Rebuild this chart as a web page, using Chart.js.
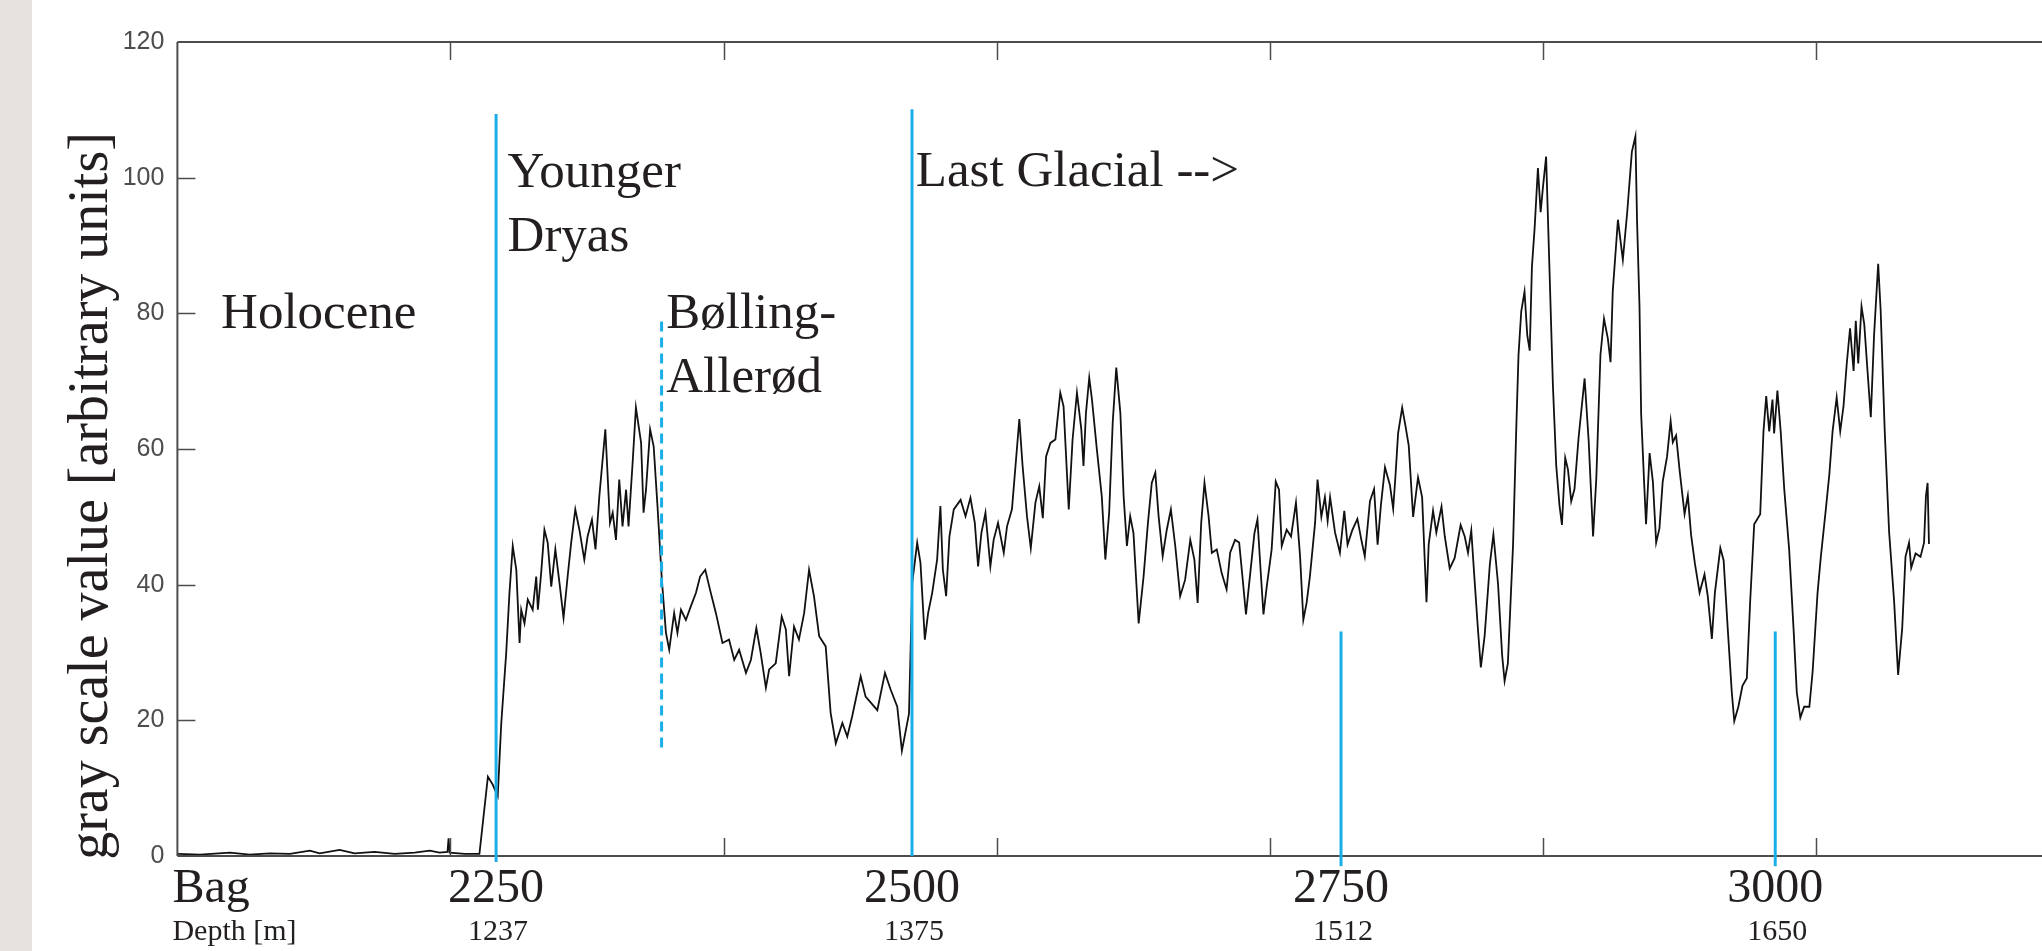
<!DOCTYPE html>
<html>
<head>
<meta charset="utf-8">
<title>Gray scale value along the core</title>
<script src="https://cdn.jsdelivr.net/npm/chart.js@4.4.1/dist/chart.umd.min.js"></script>
<style>
  html, body { margin: 0; padding: 0; overflow: hidden; background: #fff; }
  #wrap { position: relative; width: 2042px; height: 951px; overflow: hidden; }
  canvas { display: block; }
</style>
</head>
<body>
<div id="wrap"><canvas id="grayChart" width="2100" height="951"></canvas></div>
<script>
// --- Data (x in plot units, y = gray scale value) ---
const scanPos = [
  0, 8.3, 19.2, 26.5, 33.9, 41.2, 48.5, 52.1, 59.4, 64.9, 72.2, 79.6, 86.9, 92.4, 96.0, 98.9, 99.3, 99.7, 105.2, 110.6,
  113.7, 115.5, 117.3, 118.6, 120.4, 121.6, 122.8, 124.1, 125.3, 125.9, 127.1, 128.3, 130.1, 131.4, 132.0, 133.2, 134.4, 135.6, 136.9, 138.4,
  139.9, 141.4, 142.9, 144.2, 145.7, 147.2, 149.0, 150.2, 151.8, 153.1, 154.5, 156.7, 158.4, 159.4, 160.6, 161.8, 163.0, 164.3, 165.2, 166.7,
  167.9, 169.8, 170.7, 171.6, 173.1, 174.4, 175.8, 177.4, 178.9, 180.1, 181.9, 183.1, 184.4, 186.2, 188.0, 189.9, 191.4, 193.3, 195.0, 197.2,
  199.6, 202.0, 203.9, 205.7, 208.2, 210.0, 212.0, 213.6, 215.5, 216.7, 219.1, 221.3, 222.8, 224.0, 225.8, 227.6, 229.5, 231.3, 233.1, 235.0,
  237.4, 239.2, 241.1, 243.5, 245.3, 247.1, 250.2, 252.0, 256.3, 259.1, 261.2, 263.6, 265.3, 267.9, 269.1, 270.9, 272.1, 273.7, 274.9, 276.4,
  278.2, 279.4, 280.3, 281.5, 282.7, 284.3, 286.8, 288.6, 290.4, 292.0, 293.2, 294.4, 295.9, 297.7, 298.9, 300.5, 302.6, 303.8, 305.6, 306.9,
  308.3, 309.5, 311.1, 312.5, 314.2, 315.6, 316.9, 318.1, 319.7, 321.5, 323.3, 324.5, 326.4, 327.8, 329.4, 331.0, 331.8, 332.7, 333.9, 334.9,
  336.7, 338.5, 339.8, 341.2, 342.5, 343.8, 345.3, 346.5, 347.7, 348.9, 350.1, 352.0, 353.8, 355.4, 356.8, 358.1, 359.3, 360.8, 362.3, 363.8,
  365.4, 367.2, 369.0, 370.9, 372.4, 373.6, 374.9, 376.1, 377.6, 378.8, 380.6, 382.4, 384.2, 385.5, 387.3, 388.8, 390.0, 391.3, 392.5, 394.4,
  395.5, 396.8, 397.7, 398.9, 400.7, 402.2, 403.4, 404.4, 406.2, 407.8, 409.6, 411.1, 412.3, 413.5, 414.7, 416.6, 417.5, 418.9, 420.2, 421.2,
  422.1, 423.9, 425.7, 427.3, 428.5, 430.2, 432.1, 433.6, 434.8, 436.7, 438.2, 439.5, 440.7, 442.2, 444.0, 445.2, 446.0, 447.0, 448.5, 449.7,
  450.9, 452.5, 454.3, 455.8, 457.4, 458.2, 459.8, 461.0, 462.9, 464.1, 465.9, 467.7, 469.9, 471.4, 472.6, 473.8, 475.1, 476.3, 477.3, 478.7,
  480.6, 481.9, 483.6, 485.1, 486.0, 487.2, 489.1, 490.3, 491.1, 492.1, 493.3, 494.3, 495.2, 496.0, 497.0, 498.2, 499.2, 500.0, 501.2, 502.5,
  503.7, 504.9, 506.1, 507.0, 508.2, 509.2, 510.4, 511.6, 513.1, 515.3, 516.8, 518.4, 519.6, 521.1, 522.4, 523.8, 524.8, 525.6, 527.5, 529.3,
  530.9, 532.6, 533.9, 534.5, 535.4, 536.0, 537.2, 537.8, 539.1, 540.3, 541.5, 542.7, 543.9, 545.5, 546.8, 547.6, 548.8, 550.1, 551.9, 553.1,
  554.3, 555.7, 557.4, 559.2, 560.4, 561.9, 563.0, 565.0, 566.2, 567.7, 569.2, 570.1, 571.6, 573.1, 574.7, 575.9, 577.4, 579.6, 580.8, 581.8,
  582.9, 584.1, 584.7, 585.9, 587.1, 588.4, 590.2, 591.8, 593.0, 594.3, 595.7, 597.6, 598.8, 600.6, 601.8, 603.6, 604.9, 606.1, 607.6, 608.9,
  610.1, 611.3, 612.5, 613.8, 614.6, 615.5, 616.7, 617.7, 618.9, 620.1, 621.3, 622.8, 623.7, 625.2, 626.8, 628.6, 630.1, 631.6, 632.8, 634.1,
  634.9, 636.5, 638.3, 639.6, 640.3, 640.9, 641.4
];
const grayValue = [
  0.3, 0.2, 0.5, 0.2, 0.4, 0.3, 0.8, 0.4, 0.9, 0.4, 0.6, 0.3, 0.5, 0.8, 0.5, 0.6, 2.6, 0.5, 0.3, 0.3,
  11.7, 10.5, 8.8, 19.6, 29.9, 38.8, 45.7, 42.2, 31.4, 36.3, 34.3, 37.8, 36.3, 41.2, 36.3, 41.7, 48.1, 46.2, 39.7, 45.2,
  40.3, 35.1, 41.2, 46.2, 51.1, 48.1, 43.7, 47.1, 49.6, 45.2, 53.0, 62.9, 49.1, 50.6, 46.6, 55.5, 48.6, 54.0, 48.6, 58.0,
  66.1, 60.9, 50.6, 54.0, 62.9, 60.4, 51.6, 40.7, 32.9, 30.4, 35.8, 32.9, 36.3, 34.8, 36.8, 38.8, 41.2, 42.2, 39.3, 35.8,
  31.4, 31.9, 28.9, 30.4, 27.0, 28.9, 33.6, 29.9, 24.8, 27.5, 28.4, 35.3, 33.4, 26.5, 33.8, 31.9, 35.8, 42.2, 38.3, 32.4,
  30.9, 21.1, 16.6, 19.6, 17.6, 20.6, 26.5, 23.5, 21.5, 27.0, 24.5, 22.0, 15.5, 21.0, 40.3, 46.2, 43.2, 31.9, 35.8, 38.8,
  43.7, 51.6, 42.2, 38.3, 47.1, 51.1, 52.5, 50.1, 52.8, 49.1, 42.7, 47.6, 50.6, 42.7, 46.6, 49.1, 44.7, 48.6, 51.1, 57.5,
  64.4, 57.5, 50.1, 45.4, 52.1, 54.5, 49.8, 58.9, 60.9, 61.4, 68.3, 66.3, 51.1, 61.4, 68.3, 62.9, 57.5, 65.3, 70.5, 67.3,
  59.9, 53.0, 43.7, 50.6, 63.9, 72.0, 65.3, 53.0, 45.7, 50.1, 47.6, 34.3, 41.2, 49.1, 55.0, 56.5, 50.1, 44.2, 48.1, 51.1,
  45.7, 38.3, 40.7, 46.6, 43.7, 37.3, 49.1, 55.0, 50.1, 44.7, 45.2, 41.7, 39.3, 44.7, 46.6, 46.2, 41.2, 35.6, 40.3, 47.6,
  49.6, 41.2, 35.6, 39.7, 45.2, 55.2, 54.0, 45.7, 48.1, 47.1, 52.1, 44.2, 34.8, 37.3, 41.2, 49.1, 55.5, 50.0, 52.9, 49.4,
  52.9, 47.7, 44.7, 50.9, 45.9, 48.0, 49.7, 46.5, 44.2, 52.3, 54.1, 45.9, 51.7, 57.3, 54.7, 51.2, 55.8, 62.3, 66.1, 63.4,
  60.5, 50.0, 55.8, 52.9, 37.4, 45.9, 50.9, 47.7, 51.5, 47.1, 42.4, 43.9, 48.8, 47.1, 44.7, 48.0, 40.1, 33.1, 27.8, 32.5,
  43.0, 47.4, 40.1, 29.6, 25.8, 28.4, 45.9, 63.4, 73.9, 80.3, 83.2, 76.8, 74.5, 86.8, 92.6, 101.4, 94.9, 98.4, 103.1, 85.6,
  69.3, 57.6, 51.7, 48.8, 58.7, 57.0, 52.3, 54.1, 61.7, 70.4, 61.1, 47.1, 55.8, 73.9, 79.2, 76.3, 72.8, 83.2, 93.8, 87.9,
  94.9, 103.8, 106.1, 93.7, 81.0, 65.2, 54.1, 48.9, 59.4, 55.2, 46.2, 48.3, 55.2, 58.9, 64.1, 61.0, 62.0, 56.8, 50.4, 53.1,
  47.3, 43.1, 38.8, 41.5, 38.3, 32.0, 38.8, 45.4, 43.6, 33.6, 24.1, 19.9, 22.0, 25.1, 26.2, 37.3, 48.9, 50.4, 62.6, 67.8,
  62.6, 67.3, 62.3, 68.6, 62.6, 54.1, 45.2, 33.6, 24.1, 20.4, 22.0, 22.0, 27.2, 38.8, 44.1, 51.0, 56.2, 62.6, 67.6, 62.6,
  66.3, 72.6, 77.8, 71.5, 78.9, 72.6, 81.0, 78.4, 71.5, 64.7, 76.8, 87.3, 80.5, 62.6, 47.8, 37.8, 26.7, 33.6, 44.1, 46.2,
  42.5, 44.6, 44.1, 46.2, 53.1, 55.0, 46.0
];

// bag markers along the core
const bagNumbers = ["2250", "2500", "2750", "3000"];
const bagDepths = ["1237", "1375", "1512", "1650"];
const bagPos = [116.7, 269.0, 426.1, 585.1];
const bagLineTop = [109.4, 110.1, 33.1, 33.1];
const bagLineBottom = [-0.9, 0, -1.5, -1.5];

// Bølling-Allerød boundary (dashed)
const baPos = 177.3;
const baTop = 78.8;
const baBottom = 15.2;

const periodNames = [["Holocene"], ["Younger", "Dryas"], ["Bølling-", "Allerød"], ["Last Glacial -->"]];

const points = scanPos.map((x, i) => ({ x, y: grayValue[i] }));

// --- Overlay plugin: frame, inward ticks, markers, labels ---
const serif = '"Liberation Serif", "DejaVu Serif", serif';
const ink = "#231f20";
const cyan = "#1aaee8";

const overlay = {
  id: "overlay",
  beforeDraw(chart) {
    const { ctx, width, height } = chart;
    ctx.save();
    ctx.fillStyle = "#ffffff";
    ctx.fillRect(0, 0, width, height);
    ctx.fillStyle = "#e6e2df";
    ctx.fillRect(0, 0, 32, height);
    ctx.restore();
  },
  afterDatasetsDraw(chart) {
    const { ctx, chartArea: a } = chart;
    const xs = chart.scales.x, ys = chart.scales.y;
    ctx.save();

    // frame
    ctx.strokeStyle = "#4d4d4d";
    ctx.lineWidth = 2;
    ctx.beginPath();
    ctx.moveTo(a.left, a.top); ctx.lineTo(a.right, a.top);
    ctx.moveTo(a.left, a.bottom); ctx.lineTo(a.right, a.bottom);
    ctx.moveTo(a.left, a.top); ctx.lineTo(a.left, a.bottom);
    ctx.moveTo(a.right, a.top); ctx.lineTo(a.right, a.bottom);
    ctx.stroke();

    // inward tick marks
    ctx.lineWidth = 1.5;
    ctx.beginPath();
    xs.ticks.forEach(t => {
      if (t.value <= xs.min || t.value >= xs.max) return;
      const px = Math.round(xs.getPixelForValue(t.value)) + 0.5;
      ctx.moveTo(px, a.bottom); ctx.lineTo(px, a.bottom - 18);
      ctx.moveTo(px, a.top); ctx.lineTo(px, a.top + 18);
    });
    ys.ticks.forEach(t => {
      if (t.value <= ys.min || t.value >= ys.max) return;
      const py = Math.round(ys.getPixelForValue(t.value)) + 0.5;
      ctx.moveTo(a.left, py); ctx.lineTo(a.left + 18, py);
      ctx.moveTo(a.right, py); ctx.lineTo(a.right - 18, py);
    });
    ctx.stroke();

    // cyan boundary lines
    ctx.strokeStyle = cyan;
    ctx.lineWidth = 3;
    bagPos.forEach((v, i) => {
      const px = xs.getPixelForValue(v);
      ctx.beginPath();
      ctx.moveTo(px, ys.getPixelForValue(bagLineTop[i]));
      ctx.lineTo(px, ys.getPixelForValue(bagLineBottom[i]));
      ctx.stroke();
    });
    ctx.setLineDash([10, 6]);
    ctx.beginPath();
    const bx = xs.getPixelForValue(baPos);
    ctx.moveTo(bx, ys.getPixelForValue(baTop));
    ctx.lineTo(bx, ys.getPixelForValue(baBottom));
    ctx.stroke();
    ctx.restore();
  },
  afterDraw(chart) {
    const { ctx, chartArea: a } = chart;
    const xs = chart.scales.x, ys = chart.scales.y;
    ctx.save();
    ctx.fillStyle = ink;
    ctx.textBaseline = "alphabetic";

    // period names
    const anchors = [[16.0, 77.9], [120.9, 98.6], [179.0, 77.9], [270.4, 98.7]];
    ctx.font = "51px " + serif;
    ctx.textAlign = "left";
    periodNames.forEach((lines, i) => {
      const px = xs.getPixelForValue(anchors[i][0]);
      const py = ys.getPixelForValue(anchors[i][1]);
      lines.forEach((ln, j) => ctx.fillText(ln, px, py + j * 64));
    });

    // bag numbers and depths under the axis
    ctx.font = "48px " + serif;
    ctx.fillText("Bag", a.left - 5, a.bottom + 46);
    ctx.font = "30px " + serif;
    ctx.fillText("Depth [m]", a.left - 5, a.bottom + 84);
    ctx.textAlign = "center";
    bagPos.forEach((v, i) => {
      const px = xs.getPixelForValue(v);
      ctx.font = "48px " + serif;
      ctx.fillText(bagNumbers[i], px, a.bottom + 46);
      ctx.font = "30px " + serif;
      ctx.fillText(bagDepths[i], px + 2, a.bottom + 84);
    });

    // y axis title
    ctx.translate(107, 496);
    ctx.rotate(-Math.PI / 2);
    ctx.font = "56px " + serif;
    ctx.fillText("gray scale value [arbitrary units]", 0, 0);
    ctx.restore();
  }
};

// --- Chart ---
const ctx = document.getElementById("grayChart").getContext("2d");
const chart = new Chart(ctx, {
  type: "line",
  data: {
    datasets: [{
      label: "gray scale value",
      data: points,
      borderColor: "#111111",
      borderWidth: 1.8,
      pointRadius: 0,
      tension: 0,
      fill: false
    }]
  },
  options: {
    responsive: false,
    animation: false,
    devicePixelRatio: 1,
    layout: { padding: { left: 0, top: 42, right: 11, bottom: 0 } },
    plugins: {
      legend: { display: false },
      tooltip: { enabled: false }
    },
    scales: {
      x: {
        type: "linear",
        min: 0,
        max: 700,
        ticks: { display: false, stepSize: 100 },
        grid: { display: false },
        border: { display: false },
        afterFit: s => { s.height = 95; }
      },
      y: {
        min: 0,
        max: 120,
        ticks: {
          stepSize: 20,
          padding: 13,
          color: "#4d4d4d",
          font: { family: '"Liberation Sans", Arial, sans-serif', size: 25 }
        },
        grid: { display: false, drawTicks: false },
        border: { display: false },
        afterFit: s => { s.width = 177.4; }
      }
    }
  },
  plugins: [overlay]
});
</script>
</body>
</html>
